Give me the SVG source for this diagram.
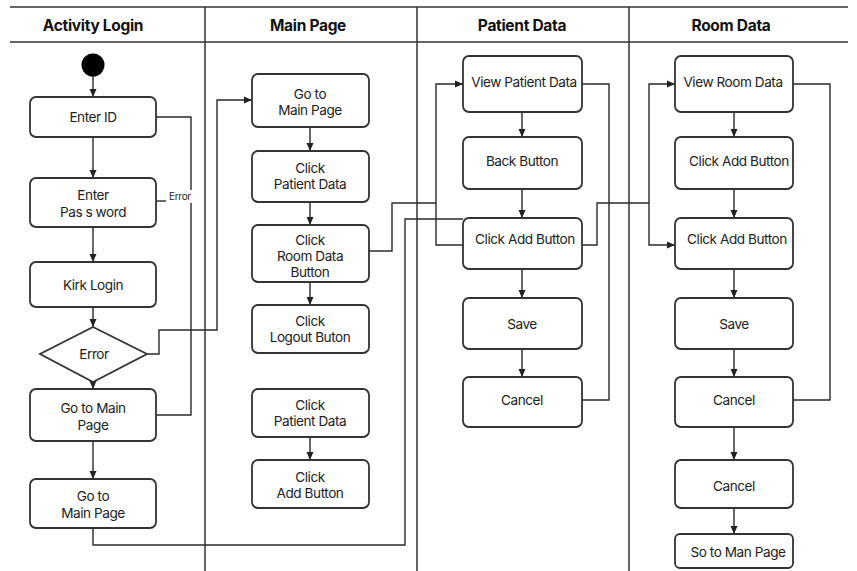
<svg xmlns="http://www.w3.org/2000/svg" width="857" height="571" viewBox="0 0 857 571">
<defs>
<marker id="ah" viewBox="0 0 8 8" refX="8" refY="4" markerWidth="8" markerHeight="8" markerUnits="userSpaceOnUse" orient="auto">
<path d="M0,0.5 L8,4 L0,7.5 Z" fill="#222"/>
</marker>
<style>
.lane{stroke:#333;stroke-width:1.5;fill:none}
.hd{font-family:Inter,"Liberation Sans",sans-serif;font-weight:bold;font-size:15.5px;fill:#111;text-anchor:middle;dominant-baseline:central;letter-spacing:-0.3px}
.box{fill:#fff;stroke:#333;stroke-width:1.8}
.t{font-family:Inter,"Liberation Sans",sans-serif;font-size:13.6px;fill:#222;text-anchor:middle;dominant-baseline:central;letter-spacing:-0.45px}
.c{stroke:#2a2a2a;stroke-width:1.4;fill:none}
.a{stroke:#2a2a2a;stroke-width:1.4;fill:none;marker-end:url(#ah)}
.sm{font-family:Inter,"Liberation Sans",sans-serif;font-size:10px;fill:#222;dominant-baseline:central;letter-spacing:-0.3px}
</style>
</defs>
<rect width="857" height="571" fill="#fff"/>
<g id="lanes">
<line class="lane" x1="10" y1="7" x2="848" y2="7"/>
<line class="lane" x1="10" y1="42" x2="848" y2="42"/>
<line class="lane" x1="205" y1="7" x2="205" y2="571"/>
<line class="lane" x1="417" y1="7" x2="417" y2="571"/>
<line class="lane" x1="629" y1="7" x2="629" y2="571"/>
<text class="hd" x="93" y="25">Activity Login</text>
<text class="hd" x="308" y="25">Main Page</text>
<text class="hd" x="522" y="25">Patient Data</text>
<text class="hd" x="731" y="25">Room Data</text>
</g>
<g id="connectors">
<line class="a" x1="93" y1="76" x2="93" y2="97"/>
<line class="a" x1="93" y1="137" x2="93" y2="178"/>
<line class="a" x1="93" y1="227" x2="93" y2="262"/>
<line class="a" x1="93" y1="307" x2="93" y2="327"/>
<line class="a" x1="93" y1="382" x2="93" y2="389"/>
<line class="a" x1="93" y1="441" x2="93" y2="479"/>
<polyline class="c" points="156,117 191,117 191,190"/>
<polyline class="c" points="191,203 191,415 156,415"/>
<polyline class="c" points="156,201 166,201"/>
<text class="sm" x="169" y="196">Error</text>
<polyline class="a" points="147,354 159,354 159,330 217,330 217,100 252,100"/>
<polyline class="c" points="93,528 93,545 405,545 405,219 463,219"/>
<line class="a" x1="310" y1="127" x2="310" y2="151"/>
<line class="a" x1="310" y1="202" x2="310" y2="225"/>
<line class="a" x1="310" y1="282" x2="310" y2="305"/>
<line class="a" x1="310" y1="437" x2="310" y2="460"/>
<polyline class="c" points="369,251 392,251 392,203 436,203"/>
<polyline class="a" points="463,245 436,245 436,84 463,84"/>
<polyline class="c" points="582,84 609,84 609,400 582,400"/>
<line class="a" x1="522" y1="112" x2="522" y2="137"/>
<line class="a" x1="522" y1="189" x2="522" y2="218"/>
<line class="a" x1="522" y1="269" x2="522" y2="298"/>
<line class="a" x1="522" y1="349" x2="522" y2="377"/>
<polyline class="c" points="582,245 597,245 597,203 649,203"/>
<polyline class="a" points="649,203 649,245 675,245"/>
<polyline class="a" points="649,203 649,84 675,84"/>
<polyline class="c" points="793,84 830,84 830,400 793,400"/>
<line class="a" x1="734" y1="112" x2="734" y2="137"/>
<line class="a" x1="734" y1="189" x2="734" y2="218"/>
<line class="a" x1="734" y1="269" x2="734" y2="298"/>
<line class="a" x1="734" y1="349" x2="734" y2="377"/>
<line class="a" x1="734" y1="427" x2="734" y2="460"/>
<line class="a" x1="734" y1="508" x2="734" y2="534"/>
</g>
<g id="start"><circle cx="93" cy="65" r="11.5" fill="#000"/></g>
<g id="enter-id"><rect class="box" x="30" y="97" width="126" height="40" rx="6"/><text class="t" x="93" y="117">Enter ID</text></g>
<g id="enter-password"><rect class="box" x="30" y="178" width="126" height="49" rx="6"/><text class="t" x="93" y="195">Enter</text><text class="t" x="93" y="212">Pas s word</text></g>
<g id="kirk-login"><rect class="box" x="30" y="262" width="126" height="45" rx="6"/><text class="t" x="93" y="285">Kirk Login</text></g>
<g id="error"><polygon class="box" points="93,327 147,354 93,382 40,354"/><text class="t" x="94" y="354">Error</text></g>
<g id="go-main-1"><rect class="box" x="30" y="389" width="126" height="52" rx="6"/><text class="t" x="93" y="408">Go to Main</text><text class="t" x="93" y="425">Page</text></g>
<g id="go-main-2"><rect class="box" x="30" y="479" width="126" height="49" rx="6"/><text class="t" x="93" y="496">Go to</text><text class="t" x="93" y="513">Main Page</text></g>
<g id="mp-go-main"><rect class="box" x="252" y="74" width="117" height="53" rx="6"/><text class="t" x="310" y="94">Go to</text><text class="t" x="310" y="110">Main Page</text></g>
<g id="mp-patient"><rect class="box" x="252" y="151" width="117" height="51" rx="6"/><text class="t" x="310" y="168">Click</text><text class="t" x="310" y="184">Patient Data</text></g>
<g id="mp-room"><rect class="box" x="252" y="225" width="117" height="57" rx="6"/><text class="t" x="310" y="240">Click</text><text class="t" x="310" y="256">Room Data</text><text class="t" x="310" y="272">Button</text></g>
<g id="mp-logout"><rect class="box" x="252" y="305" width="117" height="48" rx="6"/><text class="t" x="310" y="321">Click</text><text class="t" x="310" y="337">Logout Buton</text></g>
<g id="mp-patient-2"><rect class="box" x="252" y="389" width="117" height="48" rx="6"/><text class="t" x="310" y="405">Click</text><text class="t" x="310" y="421">Patient Data</text></g>
<g id="mp-add"><rect class="box" x="252" y="460" width="117" height="48" rx="6"/><text class="t" x="310" y="477">Click</text><text class="t" x="310" y="493">Add Button</text></g>
<g id="pd-view"><rect class="box" x="463" y="56" width="119" height="56" rx="6"/><text class="t" x="524" y="82">View Patient Data</text></g>
<g id="pd-back"><rect class="box" x="463" y="137" width="119" height="52" rx="6"/><text class="t" x="522" y="161">Back Button</text></g>
<g id="pd-add"><rect class="box" x="463" y="218" width="119" height="51" rx="6"/><text class="t" x="525" y="239">Click Add Button</text></g>
<g id="pd-save"><rect class="box" x="463" y="298" width="119" height="51" rx="6"/><text class="t" x="522" y="324">Save</text></g>
<g id="pd-cancel"><rect class="box" x="463" y="377" width="119" height="50" rx="6"/><text class="t" x="522" y="400">Cancel</text></g>
<g id="rd-view"><rect class="box" x="675" y="56" width="118" height="56" rx="6"/><text class="t" x="733" y="82">View Room Data</text></g>
<g id="rd-add-1"><rect class="box" x="675" y="137" width="118" height="52" rx="6"/><text class="t" x="739" y="161">Click Add Button</text></g>
<g id="rd-add-2"><rect class="box" x="675" y="218" width="118" height="51" rx="6"/><text class="t" x="737" y="239">Click Add Button</text></g>
<g id="rd-save"><rect class="box" x="675" y="298" width="118" height="51" rx="6"/><text class="t" x="734" y="324">Save</text></g>
<g id="rd-cancel-1"><rect class="box" x="675" y="377" width="118" height="50" rx="6"/><text class="t" x="734" y="400">Cancel</text></g>
<g id="rd-cancel-2"><rect class="box" x="675" y="460" width="118" height="48" rx="6"/><text class="t" x="734" y="486">Cancel</text></g>
<g id="rd-main"><rect class="box" x="675" y="534" width="118" height="34" rx="5"/><text class="t" x="738" y="552">So to Man Page</text></g>
</svg>
